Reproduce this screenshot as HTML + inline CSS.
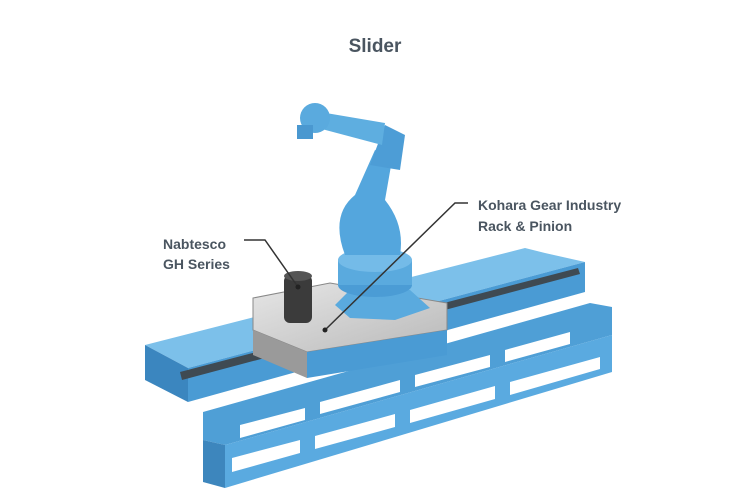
<!DOCTYPE html>
<html><head><style>
html,body{margin:0;padding:0;background:#fff;}
svg{display:block;}
text{font-family:"Liberation Sans",sans-serif;fill:#4a5560;font-weight:bold;}
</style></head><body>
<svg width="750" height="500" viewBox="0 0 750 500">
<defs>
<linearGradient id="b" x1="0" y1="0" x2="0" y2="1"><stop offset="0" stop-color="#6fb8e6"/><stop offset="1" stop-color="#3f94d0"/></linearGradient>
<linearGradient id="g" x1="0" y1="0" x2="1" y2="1"><stop offset="0" stop-color="#e6e6e6"/><stop offset="1" stop-color="#b9b9b9"/></linearGradient>
</defs>
<text x="375" y="52" font-size="19" text-anchor="middle">Slider</text>
<!-- lower frame -->
<polygon points="203,412 590,303 612,307 612,335 225,445 203,440" fill="#4f9fd6"/>
<polygon points="203,440 225,445 225,488 203,482" fill="#3d86bd"/>
<polygon points="225,445 612,335 612,372 225,488" fill="#5aaae0"/>
<polygon points="240,425 305,408 305,420 240,438" fill="#fff"/>
<polygon points="320,402 400,380 400,392 320,414" fill="#fff"/>
<polygon points="415,375 490,355 490,367 415,387" fill="#fff"/>
<polygon points="505,350 570,332 570,344 505,362" fill="#fff"/>
<polygon points="232,458 300,440 300,453 232,472" fill="#fff"/>
<polygon points="315,436 395,414 395,427 315,449" fill="#fff"/>
<polygon points="410,410 495,386 495,399 410,423" fill="#fff"/>
<polygon points="510,382 600,357 600,369 510,395" fill="#fff"/>
<!-- rail -->
<polygon points="145,345 525,248 545,253 585,262 188,368" fill="#7cc0ea"/>
<polygon points="145,345 188,368 188,402 145,380" fill="#3b86bf"/>
<polygon points="188,368 585,262 585,292 188,402" fill="#4a9bd4"/>
<polygon points="180,372 578,268 580,274 182,380" fill="#3f4a52"/>
<!-- carriage -->
<polygon points="253,298 330,283 447,303 447,330 307,352 253,330" fill="url(#g)" stroke="#888" stroke-width="1"/>
<polygon points="307,352 447,330 447,355 307,378" fill="#4a9bd4"/>
<polygon points="253,330 307,352 307,378 253,355" fill="#9a9a9a"/>
<!-- motor -->
<rect x="284" y="275" width="28" height="48" rx="6" fill="#3b3b3b"/>
<ellipse cx="298" cy="276" rx="14" ry="5" fill="#555"/>
<!-- robot -->
<path d="M335,305 L350,290 L410,290 L430,308 L395,320 L350,318Z" fill="#5aaade"/>
<ellipse cx="375" cy="285" rx="37" ry="12" fill="#4b9cd5"/>
<rect x="338" y="260" width="74" height="25" fill="#5aaade"/>
<ellipse cx="375" cy="260" rx="37" ry="12" fill="#74bbe8"/>
<path d="M345,255 Q330,215 355,195 L375,150 L392,160 L385,200 Q405,225 400,255Z" fill="#54a6dd"/>
<path d="M370,165 L385,125 L405,135 L400,170 Z" fill="#4d9dd6"/>
<path d="M385,123 L320,112 L318,128 L382,145 Z" fill="#5eaee0"/>
<circle cx="315" cy="118" r="15" fill="#5aaade"/>
<rect x="297" y="125" width="16" height="14" fill="#4a98d0"/>
<!-- leaders -->
<polyline points="244,240 265,240 298,287" fill="none" stroke="#333" stroke-width="1.5"/>
<circle cx="298" cy="287" r="2.5" fill="#222"/>
<polyline points="468,203 455,203 325,330" fill="none" stroke="#333" stroke-width="1.5"/>
<circle cx="325" cy="330" r="2.5" fill="#222"/>
<text x="163" y="249" font-size="14">Nabtesco</text>
<text x="163" y="269" font-size="14">GH Series</text>
<text x="478" y="210" font-size="14">Kohara Gear Industry</text>
<text x="478" y="231" font-size="14">Rack &amp; Pinion</text>
</svg>
</body></html>
